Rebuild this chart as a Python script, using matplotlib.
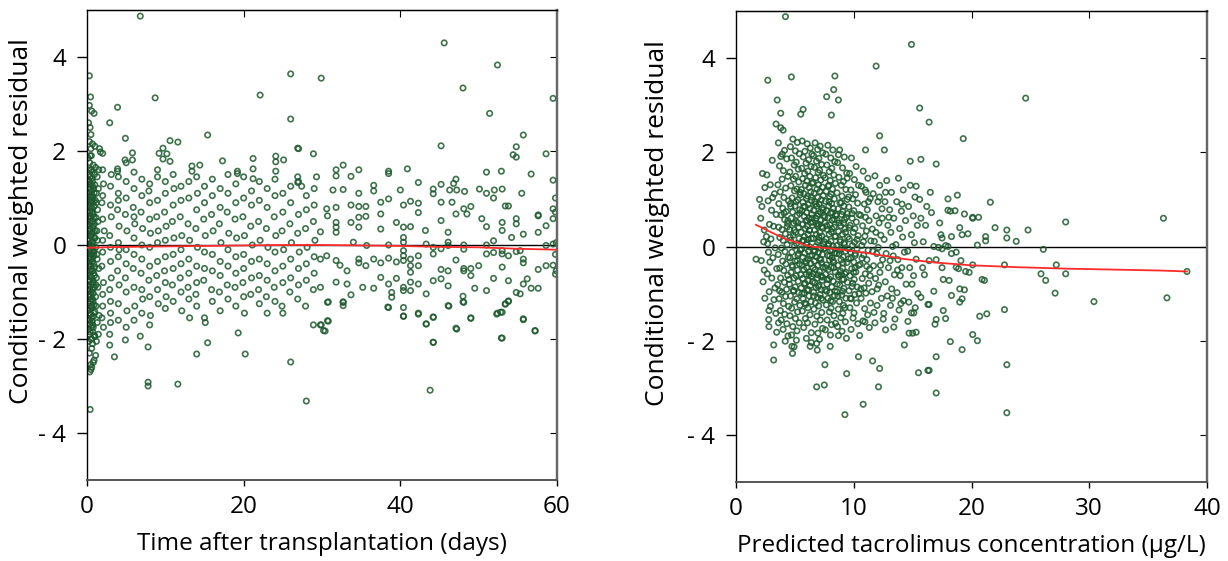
import matplotlib
matplotlib.use("Agg")
from matplotlib import pyplot as plt

plt.rcParams['font.family'] = ['Open Sans', 'DejaVu Sans']

# ---------------- left panel: CWRES vs time after transplantation ----------------
# dense cluster in the first days
early_pts = [
    (0.3, 3.6), (0.45, 3.15), (0.3, 2.97), (0.6, 2.85), (0.9, 2.8), (0.2, 2.6), (0.4, 2.5), (0.5, 2.35),
    (0.3, 2.2), (0.7, 2.15), (1.0, 2.1), (0.5, 2.05), (1.6, 2.05), (1.7, 1.98), (2.0, 1.95),
    (0.4, -3.5), (0.35, -2.7), (0.5, -2.65), (0.6, -2.6), (0.45, -2.55), (0.9, -2.45), (1.1, -2.35),
    (0.8, -2.5), (0.3, -2.3), (0.6, -2.2), (0.7, -2.1), (1.2, -2.05), (0.5, -2.0), (1.0, -1.95),
    (0.15, 1.85), (0.35, 1.75), (0.55, 1.9), (0.8, 1.7), (1.1, 1.65), (0.25, 1.6), (0.65, 1.55), (0.95, 1.5),
    (0.4, 1.45), (1.3, 1.45), (0.2, 1.38), (0.7, 1.35), (0.5, 1.3), (1.0, 1.28), (0.3, 1.22), (0.85, 1.2),
    (0.6, 1.15), (0.15, 1.1), (1.2, 1.1), (0.45, 1.05), (0.75, 1.0), (0.35, 0.95), (1.05, 0.95), (0.55, 0.9),
    (0.2, 0.85), (0.9, 0.82), (0.65, 0.78), (0.4, 0.72), (1.35, 0.75), (0.1, 0.68), (0.8, 0.65), (0.5, 0.6),
    (1.15, 0.58), (0.3, 0.55), (0.7, 0.5), (0.95, 0.45), (0.2, 0.42), (0.6, 0.38), (0.45, 0.33), (1.25, 0.3),
    (0.85, 0.27), (0.15, 0.22), (0.55, 0.18), (1.0, 0.15), (0.35, 0.1), (0.75, 0.07), (0.25, 0.02),
    (0.65, -0.03), (1.1, -0.05), (0.4, -0.1), (0.9, -0.13), (0.15, -0.18), (0.55, -0.2), (0.8, -0.25),
    (0.3, -0.28), (1.3, -0.3), (0.7, -0.35), (0.45, -0.4), (0.2, -0.45), (1.0, -0.47), (0.6, -0.52),
    (0.35, -0.55), (0.85, -0.6), (0.1, -0.63), (0.5, -0.68), (1.2, -0.7), (0.75, -0.75), (0.25, -0.78),
    (0.65, -0.82), (0.4, -0.88), (0.95, -0.9), (0.15, -0.95), (0.55, -1.0), (0.8, -1.03), (0.3, -1.08),
    (1.1, -1.1), (0.7, -1.15), (0.45, -1.2), (0.2, -1.25), (0.9, -1.28), (0.6, -1.33), (0.35, -1.38),
    (1.0, -1.42), (0.5, -1.47), (0.8, -1.52), (0.25, -1.57), (0.65, -1.62), (0.4, -1.68), (1.3, -1.65),
    (0.55, -1.75), (0.15, -1.8), (0.75, -1.85), (0.3, -1.9), (0.95, -1.92), (0.6, -2.0), (0.45, -1.05),
    (0.5, 0.0), (0.6, 0.25), (0.3, 0.8), (0.7, 1.05), (0.85, -0.4), (0.4, -0.65), (0.25, 1.35), (1.15, -0.85),
    (0.9, 0.6), (0.35, -1.6), (0.55, 1.6), (0.2, -0.05), (0.65, -1.3), (0.45, 0.5), (1.05, 0.3), (0.75, -0.15),
    (0.3, -0.95), (0.6, 0.95), (0.8, -1.75), (0.4, 1.9), (0.5, -0.3), (0.35, 0.35), (0.7, -0.55), (0.25, 0.6),
    (0.12, 1.3), (0.42, 1.18), (0.72, 1.25), (0.22, 1.02), (0.52, 0.8), (0.82, 0.92), (0.12, 0.5), (0.38, 0.62),
    (0.68, 0.7), (0.95, 0.15), (0.18, 0.3), (0.48, 0.2), (0.78, 0.4), (0.28, -0.12), (0.58, 0.05), (0.88, -0.2),
    (0.12, -0.35), (0.42, -0.25), (0.72, -0.05), (0.22, -0.6), (0.52, -0.45), (0.82, -0.8), (0.12, -0.85),
    (0.38, -0.75), (0.68, -0.95), (0.95, -0.65), (0.18, -1.1), (0.48, -1.3), (0.78, -1.2), (0.28, -1.45),
    (0.58, -1.55), (0.88, -1.45), (0.12, -1.6), (0.42, -1.85), (0.72, -1.7), (0.22, -2.05), (0.52, -1.15),
    (0.62, 1.42), (0.32, 1.5), (0.92, 1.1), (1.2, 0.9), (1.25, -0.2), (1.15, -1.3), (1.3, 0.1), (1.4, -0.9),
    (1.45, 1.2), (1.5, -0.5), (1.4, 0.5), (1.55, -1.5), (1.5, 1.6), (1.45, -1.9), (0.08, 0.1), (0.08, -1.4),
]

# days 2 - 29
mid_pts = [
    (2.0, 1.6), (2.1, 1.3), (1.9, 0.9), (2.0, 0.55), (2.2, 0.3), (2.0, -0.15), (1.9, -0.45), (2.1, -0.8),
    (2.0, -1.05), (2.0, -1.3), (1.9, -1.55), (2.1, -1.75), (2.0, 1.05), (2.0, 0.1),
    (3.0, 1.25), (3.0, 0.85), (3.1, 0.6), (2.9, 0.2), (3.0, -0.05), (3.0, -0.35), (3.1, -0.7), (2.9, -0.95),
    (3.0, -1.2), (3.0, -1.45), (3.0, -1.65), (3.1, 1.5), (2.9, -1.9),
    (4.0, 1.45), (4.0, 1.1), (3.9, 0.75), (4.1, 0.4), (4.0, 0.05), (4.0, -0.25), (3.9, -0.55), (4.1, -0.85),
    (4.0, -1.25), (4.0, -1.6), (4.0, 0.95), (4.1, -0.1),
    (5.0, 1.35), (5.0, 1.0), (4.9, 0.65), (5.1, 0.3), (5.0, -0.1), (5.0, -0.4), (4.9, -0.7), (5.0, -1.0),
    (5.1, -1.4), (5.0, -1.75), (5.0, 1.75),
    (6.0, 1.55), (6.0, 1.2), (5.9, 0.8), (6.1, 0.45), (6.0, 0.15), (6.0, -0.2), (5.9, -0.5), (6.0, -0.9),
    (6.1, -1.3), (6.0, -1.6), (6.0, 0.6),
    (7.0, 1.4), (7.0, 1.05), (6.9, 0.7), (7.1, 0.35), (7.0, 0.0), (7.0, -0.3), (6.9, -0.6), (7.0, -0.95),
    (7.1, -1.15), (7.0, -1.45),
    (8.0, 1.3), (7.9, 1.15), (8.0, 0.55), (8.1, 0.25), (8.0, -0.05), (8.0, -0.45), (7.9, -0.75), (8.0, -1.1),
    (8.1, -1.5), (8.0, -1.7), (8.0, 0.9),
    (9.0, 1.45), (9.0, 0.95), (8.9, 0.6), (9.1, 0.3), (9.0, 0.05), (9.0, -0.35), (8.9, -0.65), (9.0, -0.95),
    (9.1, -1.25), (9.0, 1.6),
    (10.0, 1.35), (10.0, 1.1), (9.9, 0.7), (10.1, 0.4), (10.0, 0.1), (10.0, -0.25), (9.9, -0.55), (10.0, -0.8),
    (10.1, -1.1), (10.0, -1.35),
    (11.0, 1.5), (11.0, 0.85), (10.9, 0.5), (11.1, 0.15), (11.0, -0.2), (11.0, -0.5), (10.9, -0.85),
    (11.0, -1.2), (11.1, 1.2),
    (12.0, 1.25), (12.0, 0.95), (11.9, 0.6), (12.1, 0.2), (12.0, -0.1), (12.0, -0.4), (11.9, -0.7),
    (12.0, -1.0), (12.1, -1.4),
    (13.0, 1.35), (13.0, 1.0), (12.9, 0.45), (13.1, 0.1), (13.0, -0.3), (13.0, -0.6), (12.9, -0.9),
    (13.0, -1.15), (13.1, -1.55),
    (14.0, 1.45), (14.0, 0.75), (13.9, 0.35), (14.1, -0.05), (14.0, -0.45), (14.0, -0.8), (13.9, -1.05),
    (14.0, -1.3), (14.1, 1.1),
    (15.0, 1.25), (15.0, 0.9), (14.9, 0.55), (15.1, 0.2), (15.0, -0.15), (15.0, -0.5), (14.9, -0.75),
    (15.0, -1.55), (15.1, -1.65),
    (16.0, 1.4), (16.0, 1.05), (15.9, 0.65), (16.1, 0.3), (16.0, -0.2), (16.0, -0.55), (15.9, -0.95), (16.0, -1.2),
    (17.0, 1.2), (17.0, 0.8), (16.9, 0.45), (17.1, 0.05), (17.0, -0.35), (17.0, -0.65), (16.9, -1.0), (17.0, -1.4),
    (18.0, 1.5), (18.0, 1.1), (17.9, 0.7), (18.1, 0.25), (18.0, -0.1), (18.0, -0.45), (17.9, -0.85), (18.0, -1.15),
    (19.0, 1.3), (19.0, 0.9), (18.9, 0.55), (19.1, 0.15), (19.0, -0.25), (19.0, -0.6), (18.9, -0.9), (19.0, -1.3),
    (20.0, 1.45), (20.0, 1.0), (19.9, 0.6), (20.1, 0.2), (20.0, -0.2), (20.0, -0.5), (19.9, -0.8), (20.0, -1.1),
    (20.1, -1.45),
    (21.0, 1.15), (21.0, 0.85), (20.9, 0.4), (21.1, 0.0), (21.0, -0.35), (21.0, -0.7), (20.9, -1.05),
    (22.0, 1.35), (22.0, 0.95), (21.9, 0.5), (22.1, 0.1), (22.0, -0.3), (22.0, -0.65), (21.9, -0.95), (22.0, -1.25),
    (23.0, 1.2), (23.0, 0.8), (22.9, 0.35), (23.1, -0.05), (23.0, -0.4), (23.0, -0.75), (22.9, -1.1), (23.0, -1.45),
    (24.0, 1.4), (24.0, 1.05), (23.9, 0.6), (24.1, 0.2), (24.0, -0.15), (24.0, -0.55), (23.9, -0.9), (24.0, -1.2),
    (25.0, 1.1), (25.0, 0.7), (24.9, 0.3), (25.1, -0.1), (25.0, -0.45), (25.0, -0.8), (24.9, -1.3), (25.0, -1.45),
    (26.0, 1.25), (26.0, 0.9), (25.9, 0.45), (26.1, 0.05), (26.0, -0.3), (26.0, -0.7), (25.9, -1.0),
    (27.0, 1.35), (27.0, 0.65), (26.9, 0.25), (27.1, -0.15), (27.0, -0.5), (27.0, -0.85), (26.9, -1.15),
    (28.0, 1.05), (28.0, 0.75), (27.9, 0.35), (28.1, -0.05), (28.0, -0.4), (28.0, -0.75), (27.9, -1.3),
    (29.0, 1.2), (29.0, 0.85), (28.9, 0.5), (29.1, 0.1), (29.0, -0.25), (29.0, -0.6), (28.9, -0.95),
]

# days 30 - 60
late_pts = [
    (31.8, 1.6), (31.8, 1.47), (32.7, 1.7), (34.7, 1.6), (33.7, 1.46), (36.6, 1.27), (38.5, 1.57), (38.5, 1.52),
    (40.9, 1.62), (42.3, 1.33), (45.2, 1.29), (46.8, 1.31), (47.1, 1.4), (51.0, 1.55), (52.9, 1.57), (56.7, 1.51),
    (31.4, 1.17), (32.7, 1.18), (34.7, 1.1), (36.6, 1.15), (40.0, 1.17), (44.2, 1.19), (46.3, 1.17), (47.2, 1.17),
    (48.2, 1.14), (50.1, 1.19), (52.0, 1.17), (53.0, 1.19), (55.5, 1.1),
    (30.6, 0.77), (31.8, 0.8), (33.7, 0.85), (34.7, 0.82), (35.6, 0.82), (37.5, 0.91), (38.5, 0.98), (40.4, 0.85),
    (41.3, 0.93), (42.3, 0.89), (44.2, 1.09), (45.2, 0.91), (46.6, 0.91), (48.1, 0.77), (49.0, 0.82), (51.0, 1.1),
    (51.9, 1.0), (53.4, 0.83), (53.8, 0.83), (57.6, 0.64), (59.5, 0.77),
    (30.7, 0.62), (31.8, 0.48), (31.8, 0.38), (33.7, 0.48), (34.7, 0.59), (34.7, 0.38), (35.6, 0.61), (37.5, 0.66),
    (37.5, 0.34), (39.5, 0.48), (40.4, 0.38), (41.3, 0.39), (42.3, 0.69), (43.2, 0.31), (45.2, 0.52), (46.1, 0.27),
    (47.1, 0.66), (48.5, 0.66), (50.4, 0.56), (51.0, 0.39), (53.0, 0.48), (53.0, 0.31), (54.8, 0.56), (54.8, 0.45),
    (55.7, 0.23), (57.6, 0.62), (58.6, 0.41), (59.5, 0.56),
    (29.8, 0.28), (31.8, 0.27), (34.0, 0.06), (35.7, -0.01), (38.5, 0.0), (40.4, 0.16), (40.4, 0.06), (43.3, 0.02),
    (44.2, -0.05), (46.1, 0.06), (46.1, -0.01), (48.1, 0.0), (48.1, -0.09), (51.0, 0.0), (51.9, 0.09), (53.0, -0.12),
    (54.2, 0.16), (55.3, -0.12), (57.6, 0.27), (58.6, -0.01), (59.5, 0.02),
    (29.8, -0.3), (30.6, -0.23), (31.8, -0.33), (32.3, -0.43), (33.2, -0.55), (34.7, -0.3), (34.7, -0.38),
    (35.6, -0.44), (36.6, -0.3), (37.5, -0.38), (38.5, -0.28), (39.5, -0.36), (40.4, -0.12), (40.4, -0.23),
    (40.4, -0.33), (41.3, -0.3), (41.3, -0.44), (41.3, -0.58), (42.3, -0.23), (42.3, -0.44), (44.2, -0.19),
    (45.2, -0.08), (45.2, -0.52), (46.1, -0.55), (47.1, -0.32), (48.1, -0.5), (49.0, -0.5), (50.0, -0.44),
    (51.0, -0.19), (51.9, -0.16), (53.0, -0.19), (53.0, -0.47), (53.8, -0.23), (54.8, -0.14), (55.7, -0.3),
    (55.7, -0.38), (57.6, -0.52), (58.6, -0.44), (59.5, -0.43),
    (29.8, -0.9), (31.8, -0.79), (33.2, -0.83), (33.7, -1.06), (35.2, -0.9), (36.6, -0.92), (37.5, -0.69),
    (38.5, -0.83), (38.9, -1.01), (38.9, -1.11), (39.5, -0.71), (40.4, -0.9), (40.4, -0.97), (41.3, -0.79),
    (41.3, -0.97), (42.3, -0.83), (43.3, -1.04), (44.2, -0.76), (45.2, -0.72), (46.1, -0.87), (48.1, -0.55),
    (49.0, -0.65), (49.5, -0.92), (51.0, -0.97), (51.9, -0.71), (53.8, -0.76), (54.8, -1.01), (55.3, -1.04),
    (55.7, -0.83), (56.2, -0.72), (56.7, -0.92), (57.6, -0.92),
    (30.7, -1.22), (32.7, -1.22), (32.7, -1.29), (38.5, -1.33), (40.4, -1.33), (40.4, -1.52), (42.3, -1.45),
    (43.3, -1.68), (44.2, -1.54), (46.1, -1.29), (47.1, -1.77), (48.1, -1.22), (49.0, -1.56), (52.3, -1.47),
    (53.0, -1.43), (53.4, -1.25), (53.8, -1.2), (55.7, -1.59), (57.2, -1.82), (29.8, -1.7), (30.2, -1.82),
    (30.7, -1.61), (44.2, -2.07), (53.0, -1.98),
    (59.8, 0.7), (59.8, 1.0), (59.9, -0.55), (59.8, -0.62), (59.9, 0.05), (59.8, -0.2),
]

# scattered points outside the main band
time_outliers = [
    (6.8, 4.87), (8.7, 3.13), (3.9, 2.93), (2.9, 2.6), (4.9, 2.27), (15.4, 2.34), (22.1, 3.19), (26.0, 3.64),
    (26.0, 2.68), (29.9, 3.55), (45.6, 4.3), (52.4, 3.83), (48.0, 3.34), (59.5, 3.12), (51.4, 2.8), (45.2, 2.11),
    (55.7, 2.34), (54.8, 2.09), (54.8, 1.87), (54.4, 1.92), (58.6, 1.94), (26.9, 2.06), (28.9, 1.94), (59.5, 1.38),
    (10.6, 2.22), (11.6, 2.19), (9.7, 2.06), (10.2, 1.94), (9.2, 1.95), (9.7, 1.83), (10.6, 1.78), (5.8, 1.96),
    (5.8, 1.81), (4.85, 1.81), (27.0, 2.05), (17.3, 1.79), (21.2, 1.84), (24.1, 1.89), (24.1, 1.77), (24.1, 1.57),
    (25.1, 1.81), (3.9, 1.62), (3.9, 1.57), (13.4, 1.68), (13.4, 1.57), (14.4, 1.7), (19.2, 1.57), (19.2, 1.52),
    (21.2, 1.62), (21.2, 1.41), (26.9, 1.45), (26.9, 1.33), (27.4, 1.25), (29.3, 1.45),
    (7.8, -2.92), (7.8, -3.0), (11.6, -2.96), (3.5, -2.38), (14.0, -2.32), (20.2, -2.32), (26.0, -2.49),
    (7.8, -2.17), (15.4, -2.08), (19.3, -1.87), (4.9, -2.02), (2.9, -2.13), (6.8, -1.94), (28.0, -3.32),
    (43.8, -3.09), (44.2, -2.07), (52.9, -1.98), (57.2, -1.83), (47.2, -1.79), (28.9, -1.7), (29.9, -1.7),
    (30.4, -1.83), (30.8, -1.62), (43.3, -1.68), (44.2, -1.53), (42.3, -1.47), (40.4, -1.51), (49.0, -1.55),
    (52.4, -1.45), (52.8, -1.43), (55.7, -1.57), (30.8, -1.21), (32.7, -1.21), (38.4, -1.32), (46.2, -1.3),
    (48.0, -1.21), (48.0, -1.09), (53.4, -1.26), (53.8, -1.19),
]

# smoother through the time residuals
smooth_t_x = [0, 2, 5, 10, 15, 20, 25, 30, 35, 40, 45, 50, 55, 60]
smooth_t_y = [-0.06, -0.05, -0.04, -0.03, -0.02, -0.01, 0.0, 0.0, -0.01, -0.02, -0.04, -0.05, -0.08, -0.1]

# ---------------- right panel: CWRES vs predicted concentration ----------------
conc_low = [
    (1.7, -0.27), (2.0, 1.0), (2.2, 0.85), (2.15, -0.3), (2.4, 0.35), (2.3, -0.75), (2.1, 0.6), (2.45, 1.25),
    (2.45, -1.1), (2.35, 0.1), (2.25, 1.55), (2.4, -0.5),
    (2.62, 1.52), (3.08, 1.83), (2.91, 1.31), (3.27, 1.12), (2.73, 0.97), (3.02, 0.77), (3.41, 0.68), (2.84, 0.47),
    (3.19, 0.43), (2.58, 0.21), (2.97, 0.16), (3.33, -0.03), (2.76, -0.12), (3.13, -0.24), (2.88, -0.33),
    (3.46, -0.47), (2.66, -0.58), (3.04, -0.67), (3.31, -0.88), (2.82, -0.96), (3.22, -1.13), (2.93, -1.27),
    (3.38, -1.42), (2.8, -1.36), (2.78, -1.55), (2.8, -1.7), (3.45, -1.82), (3.11, 1.04), (2.69, 0.06),
    (3.6, 2.2), (4.12, 2.04), (3.81, 1.91), (4.31, 1.86), (3.69, 1.71), (4.02, 1.61), (4.41, 1.49), (3.92, 1.43),
    (3.56, 1.31), (4.22, 1.24), (3.76, 1.16), (4.07, 1.04), (4.46, 0.97), (3.64, 0.91), (3.97, 0.81), (4.26, 0.74),
    (3.83, 0.67), (4.13, 0.57), (4.38, 0.49), (3.62, 0.41), (3.91, 0.36), (4.19, 0.27), (3.72, 0.19), (4.01, 0.13),
    (4.34, 0.04), (3.86, -0.03), (4.16, -0.11), (3.59, -0.17), (4.44, -0.23), (3.96, -0.31), (4.24, -0.37),
    (3.71, -0.46), (4.06, -0.51), (4.39, -0.61), (3.79, -0.67), (4.11, -0.76), (3.54, -0.81), (4.29, -0.91),
    (3.89, -0.97), (4.21, -1.06), (3.66, -1.11), (4.03, -1.21), (4.47, -1.27), (3.77, -1.36), (4.14, -1.44),
    (3.84, -1.56), (4.32, -1.64), (4.0, -1.76), (3.61, -1.62), (4.42, -1.9), (4.18, -2.01), (3.93, 1.96),
    (4.36, 0.42), (3.7, -0.94), (4.08, 0.71),
]

conc_core = [
    (4.83, 2.28), (5.21, 2.21), (4.62, 2.12), (5.04, 2.03), (5.38, 1.97), (4.71, 1.88), (5.12, 1.79), (4.94, 1.73),
    (5.29, 1.64), (4.57, 1.58), (5.07, 1.49), (4.88, 1.43), (5.33, 1.37), (4.66, 1.29), (5.17, 1.22), (4.97, 1.18),
    (5.44, 1.1), (4.76, 1.03), (5.24, 0.99), (4.61, 0.91), (5.01, 0.86), (5.41, 0.78), (4.81, 0.73), (5.19, 0.66),
    (4.69, 0.6), (5.09, 0.53), (4.91, 0.49), (5.31, 0.41), (4.56, 0.36), (5.06, 0.3), (4.86, 0.24), (5.36, 0.17),
    (4.64, 0.13), (5.14, 0.06), (4.96, 0.01), (5.46, -0.07), (4.74, -0.12), (5.26, -0.19), (4.59, -0.24),
    (5.02, -0.31), (5.39, -0.37), (4.79, -0.43), (5.22, -0.5), (4.68, -0.55), (5.11, -0.62), (4.92, -0.67),
    (5.28, -0.74), (4.54, -0.8), (5.03, -0.86), (4.87, -0.93), (5.34, -0.98), (4.63, -1.05), (5.16, -1.11),
    (4.98, -1.18), (5.43, -1.25), (4.73, -1.31), (5.23, -1.39), (4.58, -1.47), (5.05, -1.53), (5.37, -1.62),
    (4.82, -1.7), (5.18, -1.79), (4.72, -1.88), (5.13, -1.99), (4.93, -2.13),
    (5.62, 2.24), (6.05, 2.18), (6.31, 2.09), (5.85, 2.02), (6.44, 1.96), (5.71, 1.9), (6.17, 1.84), (5.95, 1.77),
    (6.38, 1.7), (5.58, 1.66), (6.1, 1.6), (5.83, 1.55), (6.27, 1.49), (5.66, 1.44), (6.02, 1.39), (6.46, 1.34),
    (5.9, 1.3), (6.21, 1.25), (5.55, 1.21), (6.35, 1.16), (5.77, 1.12), (6.08, 1.07), (5.97, 1.02), (6.41, 0.98),
    (5.69, 0.94), (6.14, 0.89), (5.86, 0.85), (6.29, 0.81), (5.6, 0.76), (6.0, 0.72), (6.43, 0.68), (5.79, 0.64),
    (6.19, 0.6), (5.93, 0.55), (6.33, 0.51), (5.64, 0.47), (6.06, 0.43), (5.88, 0.38), (6.24, 0.34), (5.53, 0.3),
    (6.12, 0.26), (5.81, 0.21), (6.39, 0.17), (5.73, 0.13), (6.03, 0.08), (5.99, 0.04), (6.26, -0.01), (5.57, -0.05),
    (6.16, -0.1), (5.84, -0.14), (6.47, -0.18), (5.68, -0.23), (6.09, -0.27), (5.91, -0.31), (6.36, -0.36),
    (5.61, -0.4), (6.01, -0.45), (5.76, -0.49), (6.22, -0.54), (5.96, -0.59), (6.42, -0.63), (5.66, -0.68),
    (6.13, -0.73), (5.87, -0.78), (6.3, -0.83), (5.54, -0.88), (6.04, -0.93), (5.8, -0.99), (6.2, -1.05),
    (5.7, -1.11), (6.37, -1.17), (5.94, -1.23), (6.11, -1.3), (5.63, -1.37), (6.28, -1.45), (5.89, -1.53),
    (6.07, -1.62), (5.75, -1.72), (6.4, -1.83), (5.98, -1.95),
    (6.72, 2.2), (7.15, 2.13), (6.93, 2.06), (7.36, 1.99), (6.58, 1.93), (7.04, 1.87), (6.84, 1.81), (7.27, 1.74),
    (6.66, 1.68), (7.1, 1.62), (6.97, 1.57), (7.43, 1.51), (6.76, 1.46), (7.2, 1.41), (6.55, 1.36), (7.01, 1.31),
    (7.33, 1.26), (6.88, 1.22), (7.12, 1.17), (6.63, 1.13), (7.41, 1.08), (6.95, 1.04), (7.24, 0.99), (6.7, 0.95),
    (7.07, 0.9), (6.86, 0.86), (7.31, 0.82), (6.6, 0.77), (7.17, 0.73), (6.99, 0.69), (7.46, 0.65), (6.78, 0.6),
    (7.22, 0.56), (6.53, 0.52), (7.03, 0.47), (6.9, 0.43), (7.37, 0.39), (6.68, 0.35), (7.13, 0.3), (6.82, 0.26),
    (7.29, 0.22), (6.57, 0.17), (7.06, 0.13), (6.94, 0.09), (7.44, 0.04), (6.74, 0.0), (7.19, -0.04), (6.61, -0.09),
    (7.0, -0.13), (7.34, -0.17), (6.85, -0.22), (7.11, -0.26), (6.65, -0.31), (7.26, -0.35), (6.97, -0.4),
    (7.4, -0.44), (6.73, -0.49), (7.08, -0.53), (6.56, -0.58), (7.21, -0.63), (6.91, -0.67), (7.32, -0.72),
    (6.69, -0.77), (7.05, -0.82), (6.8, -0.87), (7.25, -0.92), (6.59, -0.97), (7.14, -1.02), (6.92, -1.08),
    (7.38, -1.14), (6.75, -1.2), (7.02, -1.26), (6.62, -1.33), (7.28, -1.4), (6.87, -1.48), (7.16, -1.56),
    (6.7, -1.65), (7.35, -1.74), (6.96, -1.84), (7.09, -1.97),
    (7.8, 2.15), (8.22, 2.05), (7.63, 1.96), (8.05, 1.88), (8.39, 1.8), (7.72, 1.73), (8.14, 1.66), (7.92, 1.59),
    (8.31, 1.52), (7.57, 1.46), (8.0, 1.4), (8.44, 1.34), (7.84, 1.28), (8.19, 1.22), (7.66, 1.17), (8.08, 1.11),
    (7.96, 1.06), (8.35, 1.01), (7.6, 0.96), (8.12, 0.91), (7.88, 0.86), (8.27, 0.81), (7.7, 0.76), (8.03, 0.71),
    (8.46, 0.66), (7.82, 0.61), (8.17, 0.56), (7.54, 0.51), (7.99, 0.46), (8.33, 0.41), (7.75, 0.36), (8.1, 0.31),
    (7.91, 0.26), (8.4, 0.21), (7.64, 0.16), (8.06, 0.11), (7.86, 0.06), (8.24, 0.01), (7.58, -0.04), (8.01, -0.09),
    (8.37, -0.14), (7.77, -0.19), (8.15, -0.24), (7.94, -0.29), (8.29, -0.34), (7.68, -0.39), (8.09, -0.44),
    (7.85, -0.49), (8.43, -0.54), (7.61, -0.59), (8.04, -0.64), (7.9, -0.69), (8.26, -0.74), (7.73, -0.8),
    (8.13, -0.86), (7.56, -0.92), (7.98, -0.98), (8.36, -1.04), (7.81, -1.1), (8.2, -1.17), (7.67, -1.24),
    (8.07, -1.31), (7.93, -1.39), (8.32, -1.47), (7.74, -1.56), (8.11, -1.66), (7.59, -1.77), (8.02, -1.88),
    (8.45, -1.63), (7.87, 1.3), (8.18, -0.08), (7.71, 0.44),
    (8.8, 2.05), (9.2, 1.9), (8.63, 1.78), (9.05, 1.67), (9.4, 1.56), (8.74, 1.47), (9.12, 1.38), (8.94, 1.3),
    (9.33, 1.21), (8.58, 1.14), (9.0, 1.07), (9.45, 1.0), (8.83, 0.93), (9.17, 0.86), (8.67, 0.8), (9.08, 0.74),
    (8.97, 0.68), (9.36, 0.62), (8.6, 0.56), (9.14, 0.5), (8.88, 0.44), (9.27, 0.38), (8.71, 0.32), (9.03, 0.26),
    (9.48, 0.2), (8.85, 0.14), (9.19, 0.08), (8.55, 0.02), (8.99, -0.04), (9.31, -0.1), (8.76, -0.16), (9.1, -0.22),
    (8.92, -0.28), (9.42, -0.34), (8.65, -0.4), (9.06, -0.46), (8.87, -0.52), (9.24, -0.58), (8.72, -0.64),
    (9.02, -0.7), (9.46, -0.76), (8.81, -0.82), (9.16, -0.89), (8.57, -0.96), (8.98, -1.03), (9.34, -1.1),
    (8.78, -1.17), (9.13, -1.25), (8.69, -1.33), (9.07, -1.42), (8.9, -1.51), (9.29, -1.6), (8.62, -1.7),
    (9.01, -1.8), (9.38, -1.95), (8.84, -0.08), (9.22, 0.57), (8.95, -0.6), (9.44, 1.45), (8.7, 1.95),
    (9.25, -1.3), (8.53, 0.68),
    (9.8, 1.88), (10.2, 1.7), (9.65, 1.55), (10.05, 1.42), (10.4, 1.3), (9.75, 1.2), (10.15, 1.1), (9.92, 1.01),
    (10.33, 0.92), (9.58, 0.84), (10.01, 0.76), (10.45, 0.68), (9.86, 0.6), (10.22, 0.52), (9.7, 0.45), (10.1, 0.38),
    (9.96, 0.3), (10.37, 0.23), (9.62, 0.16), (10.07, 0.09), (9.88, 0.02), (10.27, -0.05), (9.73, -0.12),
    (10.12, -0.19), (9.55, -0.26), (10.0, -0.33), (10.42, -0.4), (9.83, -0.47), (10.18, -0.54), (9.68, -0.62),
    (10.04, -0.7), (9.9, -0.78), (10.3, -0.86), (9.6, -0.94), (10.09, -1.02), (9.79, -1.11), (10.24, -1.2),
    (9.67, -1.3), (10.02, -1.41), (9.94, -1.52), (10.35, -1.64), (9.77, -1.76), (10.13, -0.15), (9.85, 0.7),
    (10.44, -1.0), (9.57, 1.05), (10.28, 0.15), (9.99, -0.55),
]

conc_dense_extra = [
    (4.4, 0.55), (5.3, -0.15), (6.25, 0.35), (7.35, -0.65), (8.2, 0.72), (9.1, -0.35), (4.9, -0.95), (5.75, 0.85),
    (6.6, -1.05), (7.5, 0.1), (8.6, -0.8), (9.6, 0.4), (4.6, 0.2), (5.5, -0.6), (6.45, 0.6), (7.2, -0.28),
    (8.05, -1.15), (8.95, 0.93), (9.85, -0.85), (5.1, 0.95), (5.95, -0.35), (6.85, 0.48), (7.7, -0.95),
    (8.45, 0.22), (9.35, -0.55), (4.75, -0.4), (5.65, 0.12), (6.5, -0.75), (7.4, 0.78), (8.3, -0.45), (9.2, 0.05),
    (10.1, -0.45), (5.25, 0.5), (6.15, -0.92), (7.05, 0.2), (7.95, -0.2), (8.75, 0.5), (9.7, -1.1), (4.5, -0.7),
    (5.4, 0.7), (6.3, -0.2), (7.25, -1.1), (8.15, 0.38), (9.05, -0.95), (5.85, -1.2), (6.75, 0.9), (7.6, -0.45),
    (8.55, -0.15), (9.45, 0.7), (4.95, 0.35), (5.8, -0.8), (6.7, -0.1), (7.55, 0.62), (8.4, -0.95), (9.3, 0.3),
    (6.05, 0.55), (6.95, -0.6), (7.85, 0.02), (8.7, -0.6), (5.6, -1.0), (6.4, 1.05), (7.3, 0.42), (8.25, -0.3),
    (9.15, -0.7), (5.2, -0.3), (6.1, 0.15), (7.0, -0.85), (7.9, 0.95), (8.85, 0.1), (9.75, -0.25), (5.45, 1.15),
    (6.55, -0.45), (7.45, -0.05), (8.35, 0.58), (4.65, 0.85), (6.9, 0.65), (7.75, -0.7), (8.65, -1.05),
    (9.55, -0.05), (6.2, -0.6),
]

conc_upper = [
    (10.8, 1.6), (11.2, 1.45), (10.65, 1.28), (11.05, 1.15), (11.4, 1.02), (10.9, 0.9), (11.15, 0.78),
    (10.58, 0.66), (11.3, 0.55), (10.75, 0.44), (11.08, 0.33), (10.95, 0.22), (11.45, 0.12), (10.68, 0.02),
    (11.22, -0.08), (10.85, -0.18), (11.12, -0.28), (10.55, -0.38), (11.35, -0.48), (10.98, -0.58), (10.72, -0.68),
    (11.27, -0.78), (10.88, -0.88), (11.03, -0.99), (10.62, -1.1), (11.42, -1.2), (10.93, -1.32), (11.18, -1.45),
    (10.78, -1.58), (11.32, -1.72), (11.0, 0.62), (10.7, -0.25), (11.25, 0.95), (10.82, 0.1), (11.38, -0.62),
    (10.6, -0.9), (11.1, -0.42), (10.97, 1.2),
    (11.8, 1.5), (12.2, 1.3), (11.65, 1.12), (12.05, 0.95), (12.4, 0.8), (11.9, 0.65), (12.15, 0.5), (11.58, 0.37),
    (12.3, 0.24), (11.75, 0.11), (12.08, -0.02), (11.95, -0.15), (12.45, -0.28), (11.68, -0.41), (12.22, -0.55),
    (11.85, -0.68), (12.12, -0.82), (11.55, -0.96), (12.35, -1.1), (11.98, -1.25), (11.72, -1.4), (12.27, -0.4),
    (11.88, 0.3), (12.42, 0.6), (11.62, -0.1), (12.0, -0.9), (12.18, 1.05), (11.8, -1.62),
    (12.8, 1.4), (13.2, 1.15), (12.65, 0.95), (13.05, 0.78), (13.4, 0.6), (12.9, 0.45), (13.15, 0.3), (12.58, 0.15),
    (13.3, 0.0), (12.75, -0.15), (13.08, -0.3), (12.95, -0.45), (13.45, -0.6), (12.68, -0.75), (13.22, -0.9),
    (12.85, -1.05), (13.12, -1.25), (12.55, -1.42), (13.35, -0.2), (12.98, 0.62), (13.28, -1.1), (12.7, 1.15),
    (13.8, 1.45), (14.2, 1.2), (13.65, 0.95), (14.05, 0.75), (14.4, 0.55), (13.9, 0.38), (14.15, 0.2), (13.58, 0.04),
    (14.3, -0.12), (13.75, -0.28), (14.08, -0.45), (13.95, -0.62), (14.45, -0.8), (13.68, -0.98), (14.22, -1.15),
    (13.85, -1.35), (14.1, 0.9), (13.72, -0.5),
    (14.8, 1.3), (15.2, 1.05), (14.65, 0.85), (15.05, 0.65), (15.4, 0.45), (14.9, 0.25), (15.15, 0.08),
    (14.58, -0.1), (15.3, -0.27), (14.75, -0.45), (15.08, -0.62), (14.95, -0.8), (15.45, -1.0), (14.68, -1.18),
    (15.22, -1.3), (15.7, 0.6), (15.85, -0.45), (15.6, 1.0),
]

conc_tail = [
    (18.8, 1.09), (18.0, 1.01), (21.6, 0.94), (28.0, 0.52), (36.3, 0.6), (18.0, 0.77), (18.2, 0.75), (18.6, 0.76),
    (19.4, 0.69), (20.1, 0.62), (20.1, 0.6), (20.6, 0.62), (19.0, 0.4), (22.0, 0.4), (23.0, 0.35), (24.8, 0.35),
    (23.0, 0.18), (23.8, 0.11), (21.2, 0.21), (21.2, 0.12), (20.5, 0.03), (19.7, 0.27), (19.2, 0.25), (18.3, 0.21),
    (17.4, 0.25), (17.5, 0.18), (26.1, -0.06), (16.8, 0.0), (17.2, -0.02), (17.8, 0.02), (18.0, 0.0),
    (18.7, -0.12), (18.3, -0.15), (19.1, -0.3), (17.0, -0.28), (16.4, -0.3), (17.5, -0.05), (20.1, -0.39),
    (22.8, -0.39), (27.2, -0.39), (18.9, -0.47), (19.8, -0.55), (17.5, -0.45), (25.9, -0.58), (28.0, -0.58),
    (38.3, -0.53), (26.3, -0.72), (27.1, -0.99), (30.4, -1.17), (36.6, -1.09), (19.5, -0.53), (18.7, -0.44),
    (20.9, -0.7), (21.1, -0.72), (19.0, -0.9), (19.4, -0.92), (19.2, -1.11), (19.0, -1.18), (18.3, -1.04),
    (22.8, -1.34), (21.3, -1.43), (20.7, -1.48), (17.6, -1.36), (17.8, -1.53), (17.0, -1.55), (16.9, -1.65),
    (20.1, -1.87), (20.5, -2.0), (19.2, -2.19), (18.2, -2.02), (17.0, -2.34), (23.0, -2.51), (23.0, -3.53),
    (17.0, -3.11), (16.4, -2.63), (16.4, -1.23), (15.7, -1.08), (16.8, -0.95), (17.6, -0.7), (18.1, -0.72),
    (16.5, 1.15), (16.2, 0.85), (16.6, 0.72), (17.3, 0.5), (16.1, 0.45), (15.9, 0.1), (16.0, -0.6),
]

conc_outliers = [
    (4.2, 4.88), (14.9, 4.29), (11.9, 3.83), (2.7, 3.53), (4.7, 3.6), (8.4, 3.62), (8.3, 3.33), (7.7, 3.18),
    (8.7, 3.11), (3.5, 3.11), (3.8, 2.83), (5.7, 2.91), (5.5, 2.81), (8.1, 2.79), (15.6, 2.94), (16.4, 2.64),
    (3.4, 2.6), (3.8, 2.52), (4.0, 2.47), (12.2, 2.35), (12.6, 2.05), (11.0, 2.05), (14.8, 1.81), (15.7, 1.85),
    (15.3, 1.28), (24.6, 3.15), (19.3, 2.29), (17.0, 1.75),
    (9.25, -3.57), (10.8, -3.35), (6.85, -2.98), (7.5, -2.94), (12.1, -2.98), (9.4, -2.7), (7.55, -2.51),
    (12.2, -2.59), (10.4, -2.34), (11.6, -2.43), (3.2, -2.41), (4.8, -2.27), (4.75, -2.12), (3.2, -2.09),
    (6.9, -2.2), (6.3, -2.12), (6.4, -2.04), (6.85, -2.06), (8.0, -2.12), (10.5, -1.89), (8.7, -1.89),
    (14.3, -2.09), (15.5, -2.68), (16.3, -2.63), (14.7, -1.84), (15.0, -1.84), (15.3, -1.82), (12.7, -1.77),
    (13.4, -1.71), (10.95, -1.6), (12.5, -1.54), (13.5, -1.54), (14.6, -1.59), (14.9, -1.41), (15.1, -1.41),
    (14.0, -1.21), (16.3, -1.23),
]

smooth_c_x = [1.7, 3.0, 4.2, 6.3, 8.4, 11.2, 14.1, 16.9, 20.0, 24.0, 28.0, 32.0, 36.0, 38.3]
smooth_c_y = [0.46, 0.3, 0.16, 0.0, -0.05, -0.14, -0.26, -0.34, -0.4, -0.44, -0.47, -0.49, -0.51, -0.53]

y_ticks = [-4, -2, 0, 2, 4]
y_tick_labels = ['- 4', '- 2', '0', '2', '4']
t_ticks = [0, 20, 40, 60]
c_ticks = [0, 10, 20, 30, 40]

GREEN = '#1d5a2e'
RED = '#ff2a2a'


def style_axes(ax, xticks, xlim):
    ax.set_xlim(*xlim)
    ax.set_ylim(-5, 5)
    ax.set_xticks(xticks)
    ax.set_xticklabels([str(t) for t in xticks])
    ax.set_yticks(y_ticks)
    ax.set_yticklabels(y_tick_labels)
    ax.tick_params(direction='out', length=5, width=1, labelsize=17.5, colors='black')
    ax.tick_params(axis='y', pad=8, length=7)
    ax.tick_params(axis='x', pad=7, length=4)
    ax.spines['left'].set_color('black')
    ax.spines['top'].set_color('black')
    ax.spines['bottom'].set_color('#555555')
    ax.spines['right'].set_color('#666666')
    ax.spines['bottom'].set_linewidth(1.4)
    ax.spines['right'].set_linewidth(1.6)
    ax.spines['left'].set_linewidth(1.0)
    ax.spines['top'].set_linewidth(1.0)
    top = ax.secondary_xaxis('top')
    top.set_xticks([t for t in xticks if xlim[0] < t < xlim[1]])
    top.tick_params(direction='in', length=5, labeltop=False)
    top.spines['top'].set_color('black')
    right = ax.secondary_yaxis('right')
    right.set_yticks(y_ticks)
    right.tick_params(direction='in', length=5, labelright=False)
    right.spines['right'].set_color('#666666')
    right.spines['right'].set_linewidth(1.6)
    ax.axhline(0, color='black', lw=1.0, zorder=1)


def draw(ax, pts):
    xs = [p[0] for p in pts]
    ys = [p[1] for p in pts]
    ax.scatter(xs, ys, s=15, facecolors='none', edgecolors=GREEN, linewidths=1.2, alpha=0.85, zorder=2)


fig = plt.figure(figsize=(12.28, 5.61), dpi=100)
ax1 = fig.add_axes([87 / 1228, 81 / 561, 470 / 1228, 470 / 561])
ax2 = fig.add_axes([736 / 1228, 79 / 561, 471 / 1228, 471 / 561])

style_axes(ax1, t_ticks, (0, 60))
draw(ax1, early_pts + mid_pts + late_pts + time_outliers)
ax1.plot(smooth_t_x, smooth_t_y, color=RED, lw=1.3, zorder=3)
ax1.set_xlabel('Time after transplantation (days)', fontsize=17.5, labelpad=9)
ax1.set_ylabel('Conditional weighted residual', fontsize=19)
ax1.yaxis.set_label_coords(-0.112, 0.55)

style_axes(ax2, c_ticks, (0, 40))
draw(ax2, conc_low + conc_core + conc_dense_extra + conc_upper + conc_tail + conc_outliers)
ax2.plot(smooth_c_x, smooth_c_y, color=RED, lw=1.3, zorder=3)
ax2.set_xlabel('Predicted tacrolimus concentration (\u00b5g/L)', fontsize=17.5, labelpad=9)
ax2.set_ylabel('Conditional weighted residual', fontsize=19)
ax2.yaxis.set_label_coords(-0.14, 0.55)

fig.savefig('out.png', dpi=100)
